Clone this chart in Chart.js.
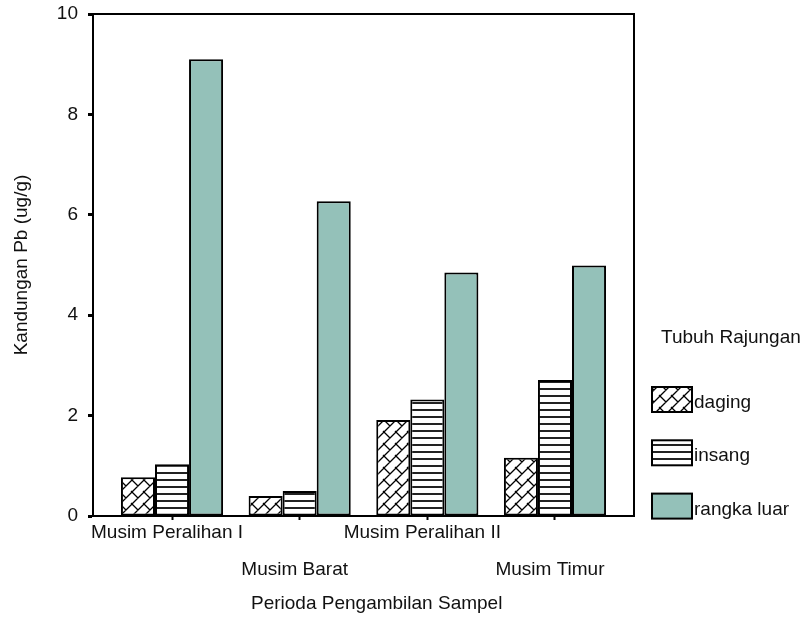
<!DOCTYPE html>
<html>
<head>
<meta charset="utf-8">
<script src="https://cdn.jsdelivr.net/npm/chart.js@4.4.1/dist/chart.umd.min.js"></script>
<style>
  html, body { margin: 0; padding: 0; background: #fff; }
  #wrap { width: 807px; height: 628px; }
</style>
</head>
<body>
<div id="wrap"><canvas id="chart" width="807" height="628"></canvas></div>
<script>
// data
const musim = ['Musim Peralihan I', 'Musim Barat', 'Musim Peralihan II', 'Musim Timur'];
const daging = [0.77, 0.40, 1.91, 1.16];
const insang = [1.03, 0.50, 2.32, 2.71];
const rangkaLuar = [9.10, 6.27, 4.85, 4.99];
const yTicks = [0, 2, 4, 6, 8, 10];
const judulLegenda = 'Tubuh Rajungan';

const FONT = '"Liberation Sans", Arial, sans-serif';
const UKURAN = 19;
const TEKS = '#111';

const canvas = document.getElementById('chart');
const ctx = canvas.getContext('2d');

// pola arsiran
function polaDaging() {
    const c = document.createElement('canvas');
    c.width = 12; c.height = 12;
    const g = c.getContext('2d');
    g.fillStyle = '#fff';
    g.fillRect(0, 0, 12, 12);
    g.strokeStyle = '#000';
    g.lineWidth = 1.3;
    g.beginPath();
    g.moveTo(-2, 14); g.lineTo(14, -2);
    g.moveTo(-2, 2); g.lineTo(2, -2);
    g.moveTo(10, 14); g.lineTo(14, 10);
    g.moveTo(-1, -1); g.lineTo(6, 6);
    g.moveTo(11, 11); g.lineTo(13, 13);
    g.stroke();
    return ctx.createPattern(c, 'repeat');
}

function polaInsang() {
    const c = document.createElement('canvas');
    c.width = 4; c.height = 7;
    const g = c.getContext('2d');
    g.fillStyle = '#fff';
    g.fillRect(0, 0, 4, 7);
    g.fillStyle = '#222';
    g.fillRect(0, 3, 4, 2);
    return ctx.createPattern(c, 'repeat');
}

function titik(arr) {
    return arr.map((v, i) => ({ x: i + 1, y: v }));
}

// bingkai atas & kanan
const bingkai = {
    id: 'bingkai',
    afterDraw(chart) {
        const a = chart.chartArea;
        const c = chart.ctx;
        c.save();
        c.strokeStyle = '#000';
        c.lineWidth = 2;
        c.beginPath();
        c.moveTo(a.left, a.top);
        c.lineTo(a.right, a.top);
        c.lineTo(a.right, a.bottom);
        c.stroke();
        c.restore();
    }
};

// legenda di kanan
const legenda = {
    id: 'legenda',
    afterDraw(chart) {
        const c = chart.ctx;
        c.save();
        c.font = UKURAN + 'px ' + FONT;
        c.fillStyle = TEKS;
        c.textBaseline = 'alphabetic';
        c.fillText(judulLegenda, 661, 343);
        chart.data.datasets.forEach((ds, i) => {
            const top = 387 + i * 53.3;
            c.fillStyle = ds.backgroundColor;
            c.fillRect(652, top, 40, 25);
            c.lineWidth = 2;
            c.strokeStyle = '#000';
            c.strokeRect(652, top, 40, 25);
            c.fillStyle = TEKS;
            c.fillText(ds.label, 694, top + 21);
        });
        c.restore();
    }
};

const dasar = {
    borderColor: '#000',
    borderWidth: 2,
    borderSkipped: false,
    categoryPercentage: 0.8,
    barPercentage: 1.0
};

new Chart(ctx, {
    type: 'bar',
    data: {
        datasets: [
            { ...dasar, label: 'daging', data: titik(daging), backgroundColor: polaDaging() },
            { ...dasar, label: 'insang', data: titik(insang), backgroundColor: polaInsang() },
            { ...dasar, label: 'rangka luar', data: titik(rangkaLuar), backgroundColor: '#94c1b9' }
        ]
    },
    options: {
        responsive: false,
        animation: false,
        layout: { padding: { top: 14, right: 173, bottom: 0, left: 0 } },
        plugins: {
            legend: { display: false },
            tooltip: { enabled: false }
        },
        scales: {
            x: {
                type: 'linear',
                offset: false,
                min: 0.381,
                max: 4.619,
                afterBuildTicks: s => { s.ticks = musim.map((m, i) => ({ value: i + 1 })); },
                afterFit: s => { s.height = 112; },
                ticks: {
                    autoSkip: false,
                    maxRotation: 0,
                    padding: 4,
                    labelOffset: -5,
                    color: TEKS,
                    font: { family: FONT, size: UKURAN, lineHeight: 0.97 },
                    callback: (v, i) => i % 2 === 0 ? musim[i] : ['', '', musim[i]]
                },
                grid: { offset: false, drawOnChartArea: false, tickLength: 4, tickWidth: 2, tickColor: '#000' },
                border: { color: '#000', width: 2 },
                title: {
                    display: true,
                    // judul sedikit ke kanan seperti aslinya
                    text: '\u00a0\u00a0\u00a0\u00a0\u00a0Perioda Pengambilan Sampel',
                    color: TEKS,
                    font: { family: FONT, size: UKURAN },
                    padding: { top: 0, bottom: 13 }
                }
            },
            y: {
                min: 0,
                max: 10,
                afterBuildTicks: s => { s.ticks = yTicks.map(v => ({ value: v })); },
                afterFit: s => { s.width = 93; },
                ticks: {
                    padding: 10,
                    color: TEKS,
                    font: { family: FONT, size: UKURAN, lineHeight: 0.2 }
                },
                grid: { drawOnChartArea: false, tickLength: 5, tickWidth: 3, tickColor: '#000' },
                border: { color: '#000', width: 2 },
                title: {
                    display: true,
                    text: 'Kandungan Pb (ug/g)',
                    color: TEKS,
                    font: { family: FONT, size: UKURAN },
                    padding: { top: 10, bottom: 0 }
                }
            }
        }
    },
    plugins: [bingkai, legenda]
});
</script>
</body>
</html>
